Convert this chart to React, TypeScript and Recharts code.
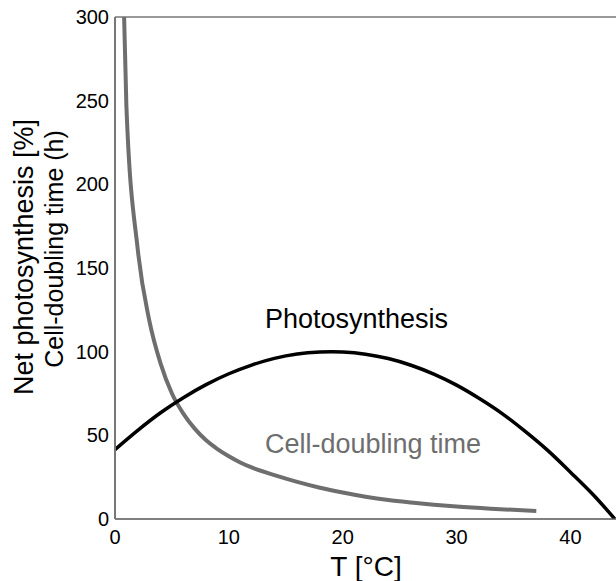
import { LineChart, Line, XAxis, YAxis, ReferenceLine } from "recharts";

const FONT = "'Liberation Sans', Arial, sans-serif";

const xTicks = [0, 10, 20, 30, 40];
const yTicks = [0, 50, 100, 150, 200, 250, 300];

// net photosynthesis (%) against temperature
const photoT = [0, 2, 4, 6, 8, 10, 12, 14, 16, 18, 19, 20, 22, 24, 26, 28, 30, 32, 34, 36, 38, 40, 42, 43.9];
const photoValues = [41.5, 53, 63.5, 72.5, 80.3, 86.8, 92, 96, 98.6, 99.8, 100, 99.8, 98.5, 95.9, 91.9, 86.6, 80, 72, 63, 52.5, 41, 28, 14.5, 0];

// cell-doubling time (h) against temperature
const cellT = [0.8, 1, 2, 3, 4, 5, 6, 7, 8, 9, 10, 11, 12, 14, 16, 18, 20, 22, 24, 26, 28, 30, 33, 37];
const cellValues = [300, 247, 161, 119, 93, 75, 63, 54, 47, 41.8, 37.5, 33.8, 30.8, 26.2, 22.2, 18.7, 15.8, 13.3, 11.3, 9.8, 8.5, 7.4, 6.1, 4.8];

const photoData = photoT.map((t, i) => ({ t, v: photoValues[i] }));
const cellData = cellT.map((t, i) => ({ t, v: cellValues[i] }));

const GRAY = "#6e6e6e";

export default function App() {
    return (
        <div style={{ position: "absolute", left: 0, top: 0, width: 616, height: 581, fontFamily: FONT }}>
            <LineChart width={616} height={581} margin={{ top: 17, right: 0, bottom: 0, left: 0 }}>
                <XAxis
                    type="number"
                    dataKey="t"
                    domain={[0, 44]}
                    ticks={xTicks}
                    allowDataOverflow
                    height={62}
                    tickLine={false}
                    tickSize={8}
                    tickMargin={3}
                    fontSize={20}
                    axisLine={{ stroke: "#555", strokeWidth: 1.5 }}
                    tick={{ fill: "#000", fontSize: 20, fontFamily: FONT }}
                />
                <YAxis
                    type="number"
                    dataKey="v"
                    domain={[0, 300]}
                    ticks={yTicks}
                    allowDataOverflow
                    width={115}
                    tickLine={false}
                    tickSize={4}
                    tickMargin={2}
                    fontSize={20}
                    axisLine={{ stroke: "#777", strokeWidth: 2 }}
                    tick={{ fill: "#000", fontSize: 20, fontFamily: FONT }}
                />
                <ReferenceLine y={300} stroke="#777" strokeWidth={1.5} />
                <Line
                    data={cellData}
                    dataKey="v"
                    type="monotone"
                    stroke={GRAY}
                    strokeWidth={4}
                    dot={false}
                    isAnimationActive={false}
                />
                <Line
                    data={photoData}
                    dataKey="v"
                    type="monotone"
                    stroke="#000"
                    strokeWidth={3.5}
                    dot={false}
                    isAnimationActive={false}
                />
            </LineChart>
            <svg
                width={616}
                height={581}
                style={{ position: "absolute", left: 0, top: 0, pointerEvents: "none" }}
            >
                <text x={265} y={328} fontSize={27} fontFamily={FONT} fill="#000">
                    Photosynthesis
                </text>
                <text x={265} y={453} fontSize={27} fontFamily={FONT} fill={GRAY}>
                    Cell-doubling time
                </text>
                <text x={366} y={576} fontSize={28} fontFamily={FONT} fill="#000" textAnchor="middle">
                    T [°C]
                </text>
                <text
                    transform="translate(33,257) rotate(-90)"
                    fontSize={27}
                    fontFamily={FONT}
                    fill="#000"
                    textAnchor="middle"
                >
                    Net photosynthesis [%]
                </text>
                <text
                    transform="translate(63,249) rotate(-90)"
                    fontSize={25}
                    fontFamily={FONT}
                    fill="#000"
                    textAnchor="middle"
                >
                    Cell-doubling time (h)
                </text>
            </svg>
        </div>
    );
}
